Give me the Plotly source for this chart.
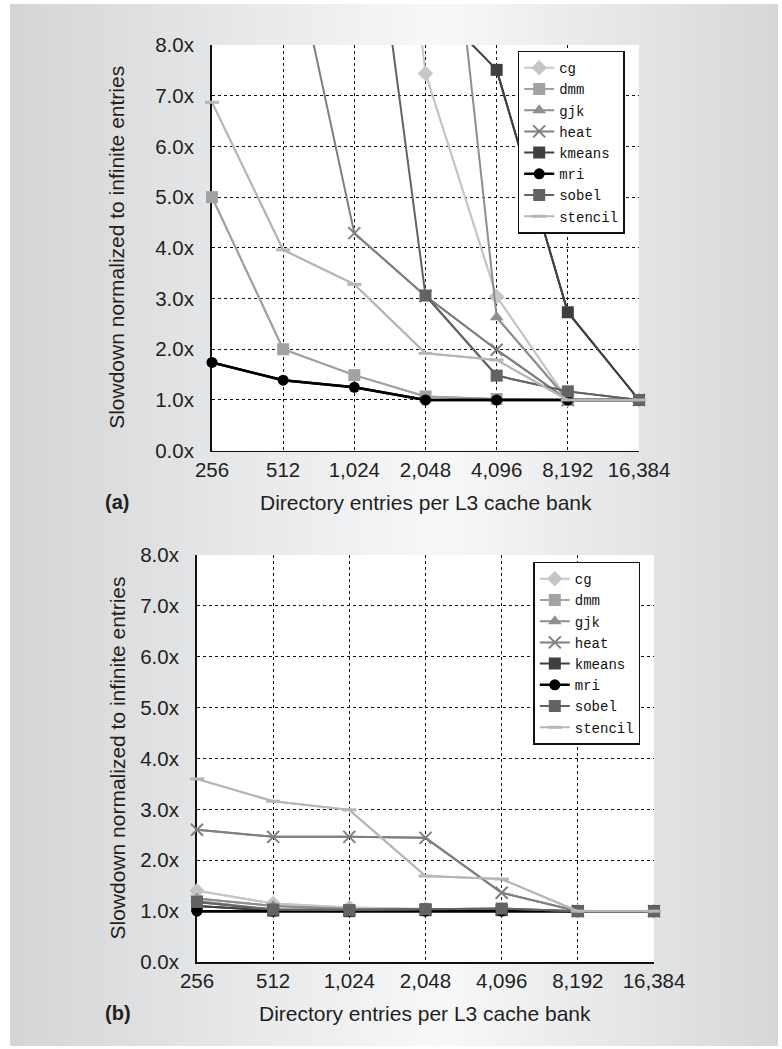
import plotly.graph_objects as go

# ---------------- data ----------------
x_labels = ["256", "512", "1,024", "2,048", "4,096", "8,192", "16,384"]
series_names = ["cg", "dmm", "gjk", "heat", "kmeans", "mri", "sobel", "stencil"]

# panel (a)  (None = far above the visible range, not drawn)
cg_a      = [None, None, 19.5, 7.44, 3.04, 1.00, 1.00]
dmm_a     = [5.00, 2.00, 1.49, 1.07, 1.02, 1.00, 1.00]
gjk_a     = [None, None, None, 15.5, 2.63, 1.00, 1.00]
heat_a    = [None, 10.8, 4.29, 3.05, 1.99, 1.00, 1.00]
kmeans_a  = [None, None, None, 8.95, 7.51, 2.73, 1.00]
mri_a     = [1.74, 1.39, 1.25, 1.00, 1.00, 1.00, 1.00]
sobel_a   = [None, None, 13.7, 3.06, 1.48, 1.17, 1.00]
stencil_a = [6.87, 3.96, 3.28, 1.92, 1.79, 1.00, 1.00]

# panel (b)
cg_b      = [1.40, 1.15, 1.07, 1.04, 1.03, 1.00, 1.00]
dmm_b     = [1.20, 1.03, 1.02, 1.02, 1.02, 1.00, 1.00]
gjk_b     = [1.25, 1.10, 1.04, 1.03, 1.03, 1.00, 1.00]
heat_b    = [2.60, 2.46, 2.46, 2.44, 1.36, 1.00, 1.00]
kmeans_b  = [1.10, 1.01, 1.00, 1.02, 1.02, 1.00, 1.00]
mri_b     = [1.00, 1.00, 1.00, 1.00, 1.00, 1.00, 1.00]
sobel_b   = [1.18, 1.03, 1.02, 1.04, 1.05, 1.00, 1.00]
stencil_b = [3.60, 3.16, 2.99, 1.69, 1.63, 1.00, 1.00]

data_a = [cg_a, dmm_a, gjk_a, heat_a, kmeans_a, mri_a, sobel_a, stencil_a]
data_b = [cg_b, dmm_b, gjk_b, heat_b, kmeans_b, mri_b, sobel_b, stencil_b]

y_max = 8.0

# ---------------- styles ----------------
W, H = 782, 1049
styles = {
    "cg":      dict(color="#c6c6c6", symbol="diamond", size=12),
    "dmm":     dict(color="#a2a2a2", symbol="square", size=12),
    "gjk":     dict(color="#8e8e8e", symbol="triangle-up", size=12),
    "heat":    dict(color="#7f7f7f", symbol="x-thin", size=12),
    "kmeans":  dict(color="#3f3f3f", symbol="square", size=12),
    "mri":     dict(color="#000000", symbol="circle", size=11),
    "sobel":   dict(color="#636363", symbol="square", size=12),
    "stencil": dict(color="#b6b6b6", symbol="line-ew", size=10),
}

def marker_for(name):
    s = styles[name]
    m = dict(symbol=s["symbol"], size=s["size"], color=s["color"])
    if s["symbol"] in ("x-thin", "line-ew"):
        m["line"] = dict(color=s["color"], width=2 if s["symbol"] == "x-thin" else 3)
    else:
        m["line"] = dict(width=0)
    return m

fig = go.Figure()

for panel, data, xa, ya, lg in (("a", data_a, "x", "y", "legend"),
                                ("b", data_b, "x2", "y2", "legend2")):
    for name, vals in zip(series_names, data):
        s = styles[name]
        lw = 2.5 if name == "mri" else 2
        # full line (clipped to the plot area)
        fig.add_trace(go.Scatter(
            x=x_labels, y=vals, mode="lines", xaxis=xa, yaxis=ya,
            line=dict(color=s["color"], width=lw), showlegend=False,
            hoverinfo="skip", connectgaps=False))
        # visible points with markers (not clipped at axis edges)
        vis = [v if (v is not None and v <= y_max) else None for v in vals]
        fig.add_trace(go.Scatter(
            x=x_labels, y=vis, mode="lines+markers", xaxis=xa, yaxis=ya,
            name=name, legend=lg, line=dict(color=s["color"], width=lw),
            marker=marker_for(name), cliponaxis=False, connectgaps=False))

# ---------------- layout geometry ----------------
def px_x(p):
    return p / W

def px_y(p):
    return 1 - p / H

a_x = [px_x(212), px_x(639)]
a_y = [px_y(450.7), px_y(45)]
b_x = [px_x(197), px_x(654)]
b_y = [px_y(962), px_y(555)]

tick_font = dict(family="Liberation Sans, Arial, sans-serif", size=20.5, color="#231f20")

def xaxis_cfg(domain, anchor):
    return dict(domain=domain, anchor=anchor, type="category",
                categoryorder="array", categoryarray=x_labels,
                range=[0, len(x_labels) - 1], showgrid=True,
                gridcolor="#111111", griddash="dot", gridwidth=1,
                showline=True, linecolor="#111111", linewidth=1.5,
                ticks="", tickfont=tick_font, ticklabelstandoff=0,
                zeroline=False, layer="below traces", fixedrange=True,
                automargin=False)

def yaxis_cfg(domain, anchor):
    return dict(domain=domain, anchor=anchor, range=[0, y_max], dtick=1,
                tickformat=".1f", ticksuffix="x", showgrid=True,
                gridcolor="#111111", griddash="dot", gridwidth=1,
                showline=True, linecolor="#111111", linewidth=2,
                ticks="", tickfont=tick_font, ticklabelstandoff=12,
                zeroline=False, layer="below traces", fixedrange=True,
                automargin=False)

legend_common = dict(xanchor="left", yanchor="top", bgcolor="white",
                     bordercolor="#111111", borderwidth=1.5,
                     font=dict(family="Liberation Mono, Courier New, monospace",
                               size=14, color="#111111"),
                     tracegroupgap=0, itemwidth=30, itemclick=False)

# ---------------- background gradient panel ----------------
shapes = []
panel_x0, panel_x1, panel_y0, panel_y1 = 10, 778, 4, 1046
stops = [(10, 213), (440, 248), (778, 215)]

def gray_at(xp):
    for (x0, g0), (x1, g1) in zip(stops[:-1], stops[1:]):
        if x0 <= xp <= x1:
            t = (xp - x0) / (x1 - x0)
            return g0 + (g1 - g0) * t
    return stops[-1][1]

n_strips = 96
step = (panel_x1 - panel_x0) / n_strips
for i in range(n_strips):
    x0 = panel_x0 + i * step
    x1 = x0 + step + 0.8
    g = gray_at(x0 + step / 2)
    col = "rgb(%d,%d,%d)" % (round(g - 1), round(g), round(g + 2))
    shapes.append(dict(type="rect", xref="paper", yref="paper",
                       x0=px_x(x0), x1=px_x(min(x1, panel_x1)),
                       y0=px_y(panel_y1), y1=px_y(panel_y0),
                       fillcolor=col, line=dict(width=0), layer="below"))
# white plot backgrounds
for xr, yr in (("x domain", "y domain"), ("x2 domain", "y2 domain")):
    shapes.append(dict(type="rect", xref=xr, yref=yr, x0=0, x1=1, y0=0, y1=1,
                       fillcolor="white", line=dict(width=0), layer="below"))

title_font = dict(family="Liberation Sans, Arial, sans-serif", size=21, color="#231f20")
label_font = dict(family="Liberation Sans, Arial, sans-serif", size=20, color="#231f20")

annotations = [
    dict(text="Directory entries per L3 cache bank", xref="paper", yref="paper",
         x=(a_x[0] + a_x[1]) / 2, y=px_y(502), xanchor="center", yanchor="middle",
         showarrow=False, font=title_font),
    dict(text="Directory entries per L3 cache bank", xref="paper", yref="paper",
         x=(b_x[0] + b_x[1]) / 2, y=px_y(1013), xanchor="center", yanchor="middle",
         showarrow=False, font=title_font),
    dict(text="Slowdown normalized to infinite entries", xref="paper", yref="paper",
         x=px_x(117), y=(a_y[0] + a_y[1]) / 2, xanchor="center", yanchor="middle",
         textangle=-90, showarrow=False, font=title_font),
    dict(text="Slowdown normalized to infinite entries", xref="paper", yref="paper",
         x=px_x(117), y=(b_y[0] + b_y[1]) / 2, xanchor="center", yanchor="middle",
         textangle=-90, showarrow=False, font=title_font),
    dict(text="<b>(a)</b>", xref="paper", yref="paper", x=px_x(117), y=px_y(502),
         xanchor="center", yanchor="middle", showarrow=False, font=label_font),
    dict(text="<b>(b)</b>", xref="paper", yref="paper", x=px_x(118), y=px_y(1013),
         xanchor="center", yanchor="middle", showarrow=False, font=label_font),
]

fig.update_layout(
    width=W, height=H, autosize=False,
    margin=dict(l=0, r=0, t=0, b=0, pad=0, autoexpand=False),
    paper_bgcolor="white", plot_bgcolor="white",
    xaxis=xaxis_cfg(a_x, "y"), yaxis=yaxis_cfg(a_y, "x"),
    xaxis2=xaxis_cfg(b_x, "y2"), yaxis2=yaxis_cfg(b_y, "x2"),
    legend=dict(x=px_x(517.7), y=px_y(50.7), **legend_common),
    legend2=dict(x=px_x(533.3), y=px_y(561.7), **legend_common),
    shapes=shapes, annotations=annotations,
    hovermode=False,
)

fig.write_html("out.html",
               config={"displayModeBar": False, "staticPlot": True},
               post_script="document.body.style.margin='0px';"
                           "document.body.style.padding='0px';"
                           "document.body.style.overflow='hidden';")
